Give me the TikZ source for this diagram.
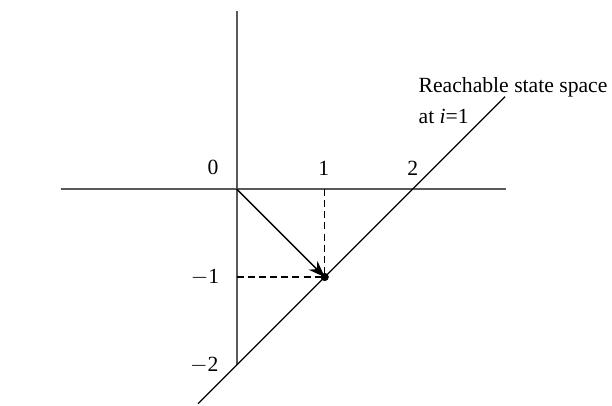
\documentclass[tikz,border=0pt]{standalone}
\usepackage{fontspec}
\setmainfont{Liberation Serif}
\usepackage{tikz}
\usetikzlibrary{arrows.meta, positioning}

\begin{document}
\begin{tikzpicture}[
    x=1.5cm, y=1.5cm,
    % styles for the axes, the boundary line and the labels
    axis/.style = {draw=black!65, line width=1.1pt},
    bound/.style = {draw=black, line width=0.65pt},
    guide/.style = {draw=black, line width=0.65pt, dash pattern=on 3.4pt off 2pt},
    arrow/.style = {line width=0.65pt, -{Stealth[length=8pt, width=6pt]}},
    dot/.style = {circle, fill=black, inner sep=0pt, minimum size=4pt},
    lbl/.style = {inner sep=1pt, font=\fontsize{10.5}{12.6}\selectfont}
]
    \useasboundingbox (-2.69,-2.455) rectangle (4.265,2.148);

    % 1. Axis end points and the origin
    \coordinate (origin) at (0,0);
    \coordinate (xleft)  at (-2,0);
    \coordinate (xright) at (3.06,0);
    \coordinate (ytop)   at (0,2.02);
    \coordinate (ybot)   at (0,-2);
    \coordinate (xone)   at (1,0);
    \coordinate (yone)   at (0,-1);

    % 2. Reachable point and the ends of the boundary line
    \node (reach) [dot] at (1,-1) {};
    \coordinate (lowend) at (-0.44,-2.44);
    \coordinate (upend)  at (3.05,1.05);

    % 3. Axes
    \draw [axis] (xleft) -- (xright);
    \draw [axis] (ytop) -- (ybot);

    % 4. Dashed guides to the reachable point
    \draw [guide] (xone) -- (reach.center);
    \draw [guide] (yone) -- (reach.center);

    % 5. Boundary of the reachable set and the step arrow
    \draw [bound] (lowend) -- (upend);
    \draw [arrow] (origin) -- (reach.center);

    % 6. Tick labels
    \node (lzero) [lbl] at (-0.27,0.24) {0};
    \node (lone)  [lbl] at (0.99,0.24) {1};
    \node (ltwo)  [lbl] at (2.0,0.24) {2};
    \node (lmone) [lbl, anchor=east] at (-0.17,-1) {$-$1};
    \node (lmtwo) [lbl, anchor=east] at (-0.18,-2) {$-$2};

    % 7. Caption of the boundary line
    \node (cap1) [lbl, anchor=base west] at (2.04,1.10) {Reachable state space};
    \node (cap2) [lbl, anchor=base west] at (2.04,0.75) {at \textit{i}=1};

\end{tikzpicture}
\end{document}
